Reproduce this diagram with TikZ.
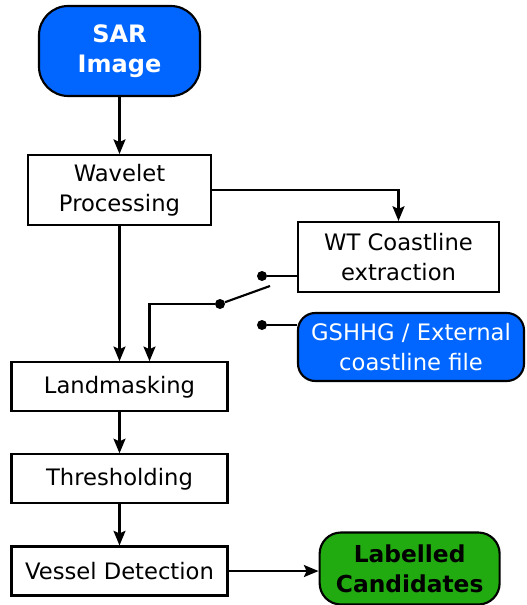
\documentclass[tikz,border=0pt]{standalone}
\usepackage{fontspec}
\setmainfont{DejaVu Sans}
\usetikzlibrary{arrows.meta,positioning}
\definecolor{sarblue}{RGB}{0,102,255}
\definecolor{candgreen}{RGB}{34,170,17}
\tikzset{
  procblk/.style={draw,rectangle,line width=1.6pt,align=center,inner sep=0pt,
    font=\fontsize{17}{22.5}\selectfont},
  srcblk/.style={procblk,rounded corners=22pt,fill=sarblue,text=white,
    font=\fontsize{18}{22.5}\selectfont\bfseries},
  extblk/.style={procblk,rounded corners=13pt,fill=sarblue,text=white},
  outblk/.style={procblk,rounded corners=16pt,fill=candgreen,
    font=\fontsize{17.5}{22.5}\selectfont\bfseries},
  arr/.style={-{Stealth[length=11pt,width=9pt,inset=2pt]},line width=1.6pt},
  ln/.style={line width=1.6pt},
  swdot/.style={circle,fill,inner sep=0pt,minimum size=7.5pt}
}
\begin{document}
\begin{tikzpicture}[x=0.75pt,y=-0.75pt]
  \useasboundingbox (0,0) rectangle (526,605);
  \node[srcblk,minimum width=120.75pt,minimum height=67.5pt] (sar) at (119.5,51) {SAR\\Image};
  \node[procblk,below=42.75pt of sar,minimum width=137.25pt,minimum height=52.5pt] (wave) {Wavelet\\Processing};
  \node[procblk,below=101.25pt of wave,minimum width=162pt,minimum height=36.75pt] (land) {Landmasking};
  \node[procblk,below=30.75pt of land,minimum width=162pt,minimum height=36.75pt] (thr) {Thresholding};
  \node[procblk,below=30.75pt of thr,minimum width=162pt,minimum height=36.75pt] (ves) {Vessel Detection};
  \node[outblk,right=67.5pt of ves,yshift=1.9pt,minimum width=135pt,minimum height=54pt] (cand) {Labelled\\Candidates};
  \node[procblk,minimum width=150.75pt,minimum height=52.5pt] (wt) at (398.5,257) {WT Coastline\\extraction};
  \node[extblk,minimum width=169.5pt,minimum height=51pt] (gs) at (411,347) {GSHHG / External\\coastline file};

  % coastline switch
  \node[swdot] (wtdot) at (262,276) {};
  \node[swdot] (gsdot) at (262,325) {};
  \node[swdot] (pivot) at (220,304) {};
  \coordinate (swend) at (270,286);

  \draw[arr] (sar)--(wave);
  \draw[arr] (wave)--(land);
  \draw[arr] (wave.east)-|(wt.north);
  \draw[ln] (wtdot)--(wtdot -| wt.west);
  \draw[ln] (gsdot)--(gsdot -| gs.west);
  \draw[ln] (pivot)--(swend);
  \draw[arr] (pivot)-|([xshift=22.5pt]land.north);
  \draw[arr] (land)--(thr);
  \draw[arr] (thr)--(ves);
  \draw[arr] (ves.east)--(ves.east -| cand.west);
\end{tikzpicture}
\end{document}
